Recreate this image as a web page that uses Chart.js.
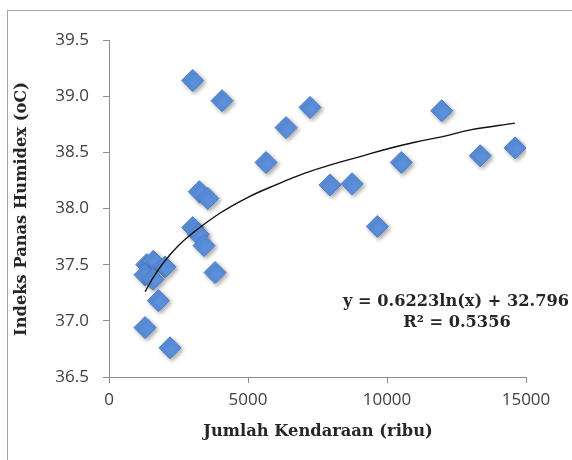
<!DOCTYPE html>
<html>
<head>
<meta charset="utf-8">
<script src="https://cdn.jsdelivr.net/npm/chart.js@4.4.1/dist/chart.umd.min.js"></script>
<style>
  html, body { margin: 0; padding: 0; background: #fff; }
  #wrap { position: relative; width: 572px; height: 460px; overflow: hidden; }
  #frame { position: absolute; left: 7px; top: 10px; width: 600px; height: 500px; border: 1px solid #a6a6a6; }
  #chart { position: absolute; left: 0; top: 0; }
</style>
</head>
<body>
<div id="wrap">
  <div id="frame"></div>
  <canvas id="chart" width="572" height="460"></canvas>
</div>
<script>
// nilai
const jumlahKendaraan = [3011, 4065, 6367, 7230, 11967, 5647, 7950, 8741, 10514, 13352, 14604,
  9651, 3248, 3550, 3011, 3212, 3417, 3813,
  1356, 1594, 2014, 1295, 1583, 1774, 1295, 2194];
const indeksHumidex = [39.14, 38.96, 38.72, 38.90, 38.87, 38.41, 38.21, 38.22, 38.41, 38.47, 38.54,
  37.84, 38.15, 38.09, 37.83, 37.77, 37.67, 37.43,
  37.50, 37.53, 37.48, 37.41, 37.37, 37.18, 36.94, 36.76];

// garis tren (dibaca dari kurva di gambar)
const trenX = [1300, 1600, 2000, 2500, 3000, 4000, 5000, 6000, 7000, 8000, 9000, 10000, 11000, 12000, 13000, 14600];
const trenY = [37.26, 37.39, 37.53, 37.67, 37.78, 37.96, 38.10, 38.21, 38.31, 38.39, 38.46, 38.53, 38.59, 38.64, 38.70, 38.76];

const persamaan = 'y = 0.6223ln(x) + 32.796';
const nilaiR2 = 'R² = 0.5356';
const judulX = 'Jumlah Kendaraan (ribu)';
const judulY = 'Indeks Panas Humidex (oC)';

const titik = jumlahKendaraan.map((x, i) => ({ x: x, y: indeksHumidex[i] }));
const tren = trenX.map((x, i) => ({ x: x, y: trenY[i] }));

const SERIF = '"DejaVu Serif"';

// cari ukuran font supaya lebar teks kira-kira sama dengan target
function fitFont(ctx, text, target) {
  ctx.font = 'bold 20px ' + SERIF;
  const w = ctx.measureText(text).width;
  return 20 * target / w;
}

// bayangan untuk titik berlian
const shadowPlugin = {
  id: 'shadow',
  beforeDatasetDraw(chart, args) {
    if (args.index !== 1) return;
    const ctx = chart.ctx;
    ctx.save();
    ctx.shadowColor = 'rgba(0,0,0,0.35)';
    ctx.shadowBlur = 4;
    ctx.shadowOffsetX = 2;
    ctx.shadowOffsetY = 2;
  },
  afterDatasetDraw(chart, args) {
    if (args.index !== 1) return;
    chart.ctx.restore();
  }
};

// judul sumbu dan persamaan
const textPlugin = {
  id: 'texts',
  afterDraw(chart) {
    const ctx = chart.ctx;
    ctx.save();
    ctx.fillStyle = '#262626';
    ctx.textAlign = 'center';
    ctx.textBaseline = 'middle';

    const sx = fitFont(ctx, judulX, 230);
    ctx.font = 'bold ' + sx.toFixed(1) + 'px ' + SERIF;
    ctx.fillText(judulX, 318, 432);

    ctx.save();
    ctx.translate(22, 209);
    ctx.rotate(-Math.PI / 2);
    ctx.font = 'bold ' + sx.toFixed(1) + 'px ' + SERIF;
    ctx.fillText(judulY, 0, 0);
    ctx.restore();

    const se = fitFont(ctx, persamaan, 226);
    ctx.font = 'bold ' + se.toFixed(1) + 'px ' + SERIF;
    ctx.fillText(persamaan, 456, 302);
    ctx.fillText(nilaiR2, 457, 323);
    ctx.restore();
  }
};

new Chart(document.getElementById('chart'), {
  type: 'scatter',
  data: {
    datasets: [
      {
        type: 'line',
        data: tren,
        borderColor: '#111',
        borderWidth: 1.4,
        pointRadius: 0,
        tension: 0.4,
        fill: false
      },
      {
        data: titik,
        pointStyle: 'rectRot',
        pointRadius: 11,
        pointHoverRadius: 11,
        backgroundColor: '#5b8fdc',
        borderColor: '#4c7fcb',
        borderWidth: 1
      }
    ]
  },
  options: {
    responsive: false,
    animation: false,
    layout: { padding: { left: 0, top: 40, right: 46, bottom: 0 } },
    plugins: {
      legend: { display: false },
      tooltip: { enabled: false }
    },
    scales: {
      x: {
        type: 'linear',
        min: 0,
        max: 15000,
        afterFit(scale) { scale.height = 83; },
        grid: { drawOnChartArea: false, drawTicks: true, tickLength: 6, color: '#8c8c8c' },
        border: { color: '#8c8c8c' },
        ticks: {
          stepSize: 5000,
          padding: 7,
          color: '#404040',
          font: { family: 'Open Sans', size: 17 },
          callback: (v) => String(v)
        }
      },
      y: {
        min: 36.5,
        max: 39.5,
        afterFit(scale) { scale.width = 109; },
        grid: { drawOnChartArea: false, drawTicks: true, tickLength: 6, color: '#8c8c8c' },
        border: { color: '#8c8c8c' },
        ticks: {
          stepSize: 0.5,
          padding: 14,
          color: '#404040',
          font: { family: 'Open Sans', size: 17 },
          callback: (v) => v.toFixed(1)
        }
      }
    }
  },
  plugins: [shadowPlugin, textPlugin]
});
</script>
</body>
</html>
